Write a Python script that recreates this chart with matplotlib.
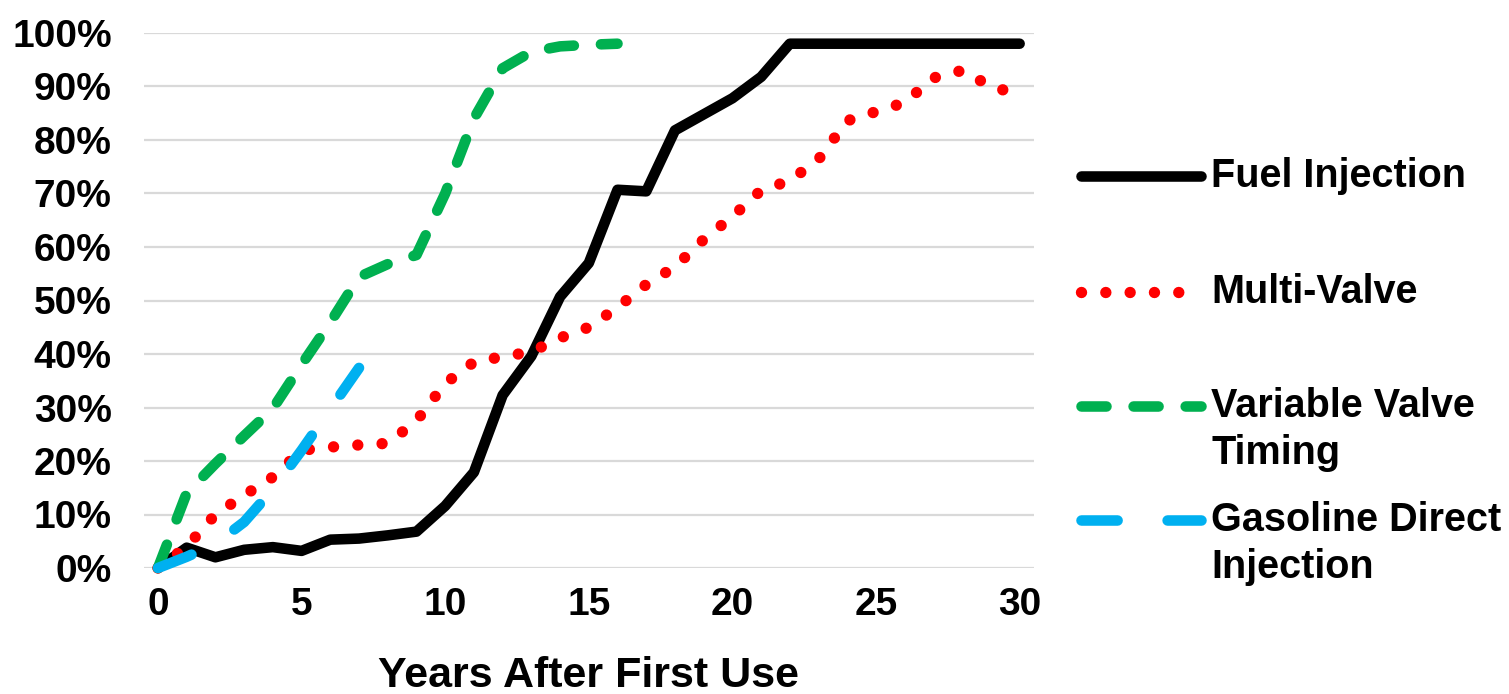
import matplotlib
matplotlib.use("Agg")
import matplotlib.pyplot as plt
from matplotlib.lines import Line2D
from matplotlib.ticker import FuncFormatter

# Share of new vehicles using each engine technology, by years after first use
years = list(range(0, 31))
fuel_injection = [0, 3.8, 2.0, 3.4, 3.9, 3.2, 5.3, 5.5, 6.1, 6.8, 11.6, 17.9, 32.3,
                  39.6, 50.7, 57.0, 70.7, 70.4, 81.8, 84.8, 87.8, 91.8, 98, 98, 98,
                  98, 98, 98, 98, 98, 98]
multi_valve = [0, 4.0, 10.0, 13.6, 17.0, 22.0, 22.6, 23.0, 23.3, 27.5, 34.5, 38.5,
               39.5, 40.4, 43.0, 45.0, 48.7, 53.0, 56.3, 61.4, 65.7, 70.6, 72.4,
               76.4, 83.6, 85.3, 87.0, 91.6, 93.0, 90.0, 88.5]
vvt_years = list(range(0, 17))
variable_valve_timing = [0, 14.0, 19.5, 24.7, 29.8, 38.0, 45.9, 54.4, 56.8, 58.5,
                         70.0, 84.0, 93.4, 96.5, 97.5, 97.8, 98.0]
gdi_years = list(range(0, 8))
gasoline_direct_injection = [0, 2.1, 4.5, 8.6, 14.7, 22.0, 29.7, 37.4]

labels = ["Fuel Injection", "Multi-Valve", "Variable Valve\nTiming",
          "Gasoline Direct\nInjection"]
x_ticks = [0, 5, 10, 15, 20, 25, 30]
y_ticks = [0, 10, 20, 30, 40, 50, 60, 70, 80, 90, 100]

plt.rcParams["font.family"] = ["Liberation Sans", "DejaVu Sans"]
plt.rcParams["font.weight"] = "bold"
plt.rcParams["lines.scale_dashes"] = False

W, H = 1509, 694
fig = plt.figure(figsize=(W / 100, H / 100), dpi=100)
ax = fig.add_axes([143.6 / W, 126 / H, (1034 - 143.6) / W, (568 - 33) / H])

BLACK = "#000000"
RED = "#ff0000"
GREEN = "#00b050"
BLUE = "#00b0f0"

styles = [
    dict(color=BLACK, lw=7.6, linestyle="-", solid_capstyle="round",
         solid_joinstyle="round"),
    dict(color=RED, lw=8.2, linestyle=(0, (0.01, 17.5)), dash_capstyle="round"),
    dict(color=GREEN, lw=7.6, linestyle=(0, (18.0, 19.5)), dash_capstyle="round",
         dash_joinstyle="round"),
    dict(color=BLUE, lw=7.6, linestyle=(0, (26.0, 36.0)), dash_capstyle="round",
         dash_joinstyle="round"),
]

series = [
    (years, fuel_injection),
    (years, multi_valve),
    (vvt_years, variable_valve_timing),
    (gdi_years, gasoline_direct_injection),
]

for (xs, ys), st in zip(series, styles):
    ax.plot(xs, ys, clip_on=False, zorder=3, **st)

ax.set_xlim(-0.5, 30.5)
ax.set_ylim(0, 100)
ax.set_xticks(x_ticks)
ax.set_yticks(y_ticks)
ax.yaxis.set_major_formatter(FuncFormatter(lambda v, _: f"{v:.0f}%"))
ax.grid(axis="y", color="#d9d9d9", lw=1.6, zorder=0)
ax.set_axisbelow(True)
for s in ax.spines.values():
    s.set_visible(False)
ax.tick_params(axis="both", length=0, labelsize=28)
ax.tick_params(axis="y", pad=23)
ax.tick_params(axis="x", pad=14)
for lab in ax.get_xticklabels() + ax.get_yticklabels():
    lab.set_fontweight("bold")

ax.set_xlabel("Years After First Use", fontsize=31, fontweight="bold")
ax.xaxis.set_label_coords(0.5, (568 - 687) / 535)
ax.xaxis.label.set_va("baseline")

# Legend on the right: handle aligned with the first line of each label
legend_y = [175.7, 291.7, 405.7, 520.0]
line_gap = 47
for lab, st, yc in zip(labels, styles, legend_y):
    yf = 1 - yc / H
    fig.add_artist(Line2D([1081 / W, 1201 / W], [yf, yf], transform=fig.transFigure,
                          **st))
    for i, part in enumerate(lab.split("\n")):
        fig.text(1211 / W, 1 - (yc + i * line_gap) / H, part, fontsize=28.5,
                 fontweight="bold", ha="left", va="center")

fig.savefig("out.png", dpi=100)
